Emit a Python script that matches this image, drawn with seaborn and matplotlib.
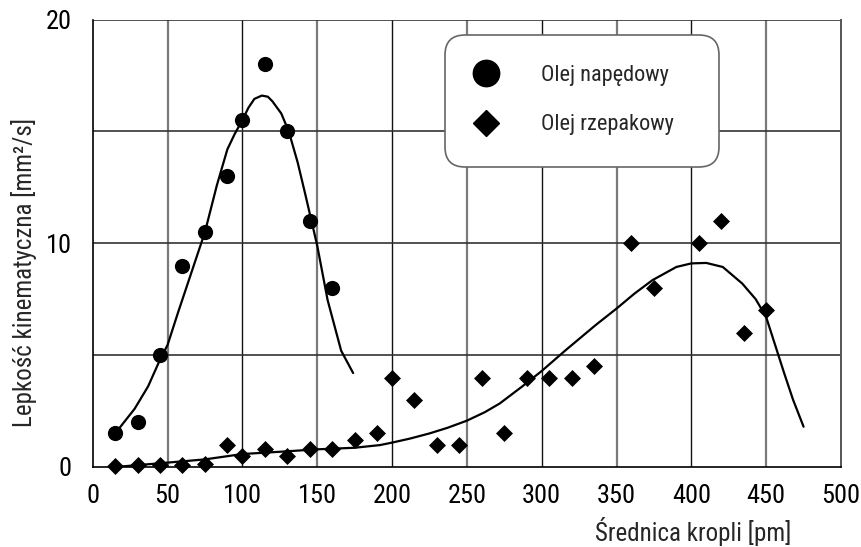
import matplotlib
matplotlib.use("Agg")
import matplotlib.pyplot as plt
from matplotlib import font_manager
from matplotlib.patches import FancyBboxPatch
from matplotlib.lines import Line2D
import seaborn as sns
import pandas as pd

# ---------------- data ----------------
diesel_x = [15, 30, 45, 60, 75, 90, 100, 115, 130, 145, 160]
diesel_y = [1.5, 2.0, 5.0, 9.0, 10.5, 13.0, 15.5, 18.0, 15.0, 11.0, 8.0]

rape_x = [15, 30, 45, 60, 75, 90, 100, 115, 130, 145, 160, 175, 190, 200, 215,
          230, 245, 260, 275, 290, 305, 320, 335, 360, 375, 405, 420, 435, 450]
rape_y = [0.05, 0.1, 0.1, 0.1, 0.15, 1.0, 0.5, 0.8, 0.5, 0.8, 0.8, 1.2, 1.5, 4.0, 3.0,
          1.0, 1.0, 4.0, 1.5, 4.0, 4.0, 4.0, 4.5, 10.0, 8.0, 10.0, 11.0, 6.0, 7.0]

# trend lines
diesel_fit_x = [15, 28, 37, 45, 50, 57, 65, 75, 83, 90, 95, 100, 104, 108, 113, 117, 120, 126,
                131, 137, 142, 150, 157, 166, 174]
diesel_fit_y = [1.5, 2.6, 3.6, 4.8, 5.45, 6.9, 8.5, 10.5, 12.6, 14.2, 14.9, 15.5, 16.05, 16.45, 16.6, 16.55, 16.35, 15.8,
                15.0, 13.6, 12.2, 9.9, 7.45, 5.2, 4.2]

rape_fit_x = [15, 49, 75, 100, 125, 150, 175, 192, 200, 212, 225, 237, 250, 262, 272, 287, 300, 316,
              336, 350, 362, 374, 390, 400, 410, 421, 434, 443, 450, 462, 468, 475]
rape_fit_y = [0.0, 0.19, 0.34, 0.58, 0.68, 0.79, 0.86, 0.98, 1.09, 1.27, 1.5, 1.75, 2.07, 2.45, 2.84, 3.6, 4.29, 5.22,
              6.34, 7.08, 7.75, 8.35, 8.94, 9.1, 9.12, 8.94, 8.2, 7.5, 6.7, 4.2, 3.0, 1.8]

series_names = ["Olej napędowy", "Olej rzepakowy"]
x_ticks = [0, 50, 100, 150, 200, 250, 300, 350, 400, 450, 500]
y_ticks = [0, 5, 10, 15, 20]
y_tick_labels = ["0", "", "10", "", "20"]
x_label = "Średnica kropli [pm]"
y_label = "Lepkość kinematyczna [mm²/s]"

# ---------------- style ----------------
sns.set_style("white")
names = {f.name for f in font_manager.fontManager.ttflist}
prefs = ["Arial Narrow", "Liberation Sans Narrow", "Nimbus Sans Narrow", "Roboto Condensed",
         "PT Sans Narrow", "Archivo Narrow", "Liberation Sans"]
main_font = next(p for p in prefs if p in names or p == "Liberation Sans")
plt.rcParams["font.family"] = [main_font, "DejaVu Sans"]

fig = plt.figure(figsize=(8.62, 5.47), dpi=100)
ax = fig.add_axes([92.7 / 862, 80 / 547, 748.3 / 862, 447.5 / 547])

pts_d = pd.DataFrame({"x": diesel_x, "y": diesel_y})
pts_r = pd.DataFrame({"x": rape_x, "y": rape_y})
fit_d = pd.DataFrame({"x": diesel_fit_x, "y": diesel_fit_y})
fit_r = pd.DataFrame({"x": rape_fit_x, "y": rape_fit_y})

sns.lineplot(data=fit_d, x="x", y="y", ax=ax, color="black", lw=1.6, sort=False,
             estimator=None, zorder=3)
sns.lineplot(data=fit_r, x="x", y="y", ax=ax, color="black", lw=1.6, sort=False,
             estimator=None, zorder=3)
sns.scatterplot(data=pts_d, x="x", y="y", ax=ax, marker="o", s=120, color="black",
                edgecolor="black", linewidth=0, zorder=4, clip_on=False)
sns.scatterplot(data=pts_r, x="x", y="y", ax=ax, marker="D", s=75, color="black",
                edgecolor="black", linewidth=0, zorder=4, clip_on=False)

ax.set_xlim(0, 500)
ax.set_ylim(0, 20)
ax.set_xticks(x_ticks)
ax.set_yticks(y_ticks)
ax.set_yticklabels(y_tick_labels)
ax.tick_params(axis="both", direction="out", length=7, width=1, color="#333333",
               labelsize=19, labelcolor="black")
ax.tick_params(axis="x", pad=5)
ax.tick_params(axis="y", pad=8)

# grid
ax.set_axisbelow(True)
for xv in x_ticks[1:-1]:
    ax.axvline(xv, color=("#111111" if xv % 100 == 0 else "#7a7a7a"),
               lw=(1.0 if xv % 100 == 0 else 1.6), zorder=0.5)
for yv in y_ticks[1:]:
    ax.axhline(yv, color="#333333", lw=1.2, zorder=0.5)

for side in ["left", "bottom"]:
    ax.spines[side].set_color("black")
    ax.spines[side].set_linewidth(1.2)
ax.spines["top"].set_visible(False)
ax.spines["right"].set_color("#555555")
ax.spines["right"].set_linewidth(1.4)

ax.set_xlabel(x_label, fontsize=18, ha="center", va="center")
ax.xaxis.set_label_coords(0.802, -0.145)
ax.set_ylabel(y_label, fontsize=18, ha="center", va="center")
ax.yaxis.set_label_coords((24 - 92.7) / 748.3, (467 - 272) / 447.5)

# legend
box = FancyBboxPatch((4.45, (547 - 167) / 100), 2.74, 1.32,
                     boxstyle="round,pad=0,rounding_size=0.2",
                     transform=fig.dpi_scale_trans, facecolor="white",
                     edgecolor="#666666", lw=1.2, zorder=5, clip_on=False)
ax.add_patch(box)
handles = [Line2D([], [], ls="none", marker="o", color="black", markersize=19),
           Line2D([], [], ls="none", marker="D", color="black", markersize=13)]
leg = ax.legend(handles, series_names, loc="center left",
                bbox_to_anchor=((475 - 92.7) / 748.3, (467 - 100) / 447.5),
                frameon=False, fontsize=16, handlelength=1.0, handletextpad=1.95,
                labelspacing=1.3, borderpad=0, borderaxespad=0)
leg.set_zorder(6)

fig.savefig("out.png", dpi=100)
